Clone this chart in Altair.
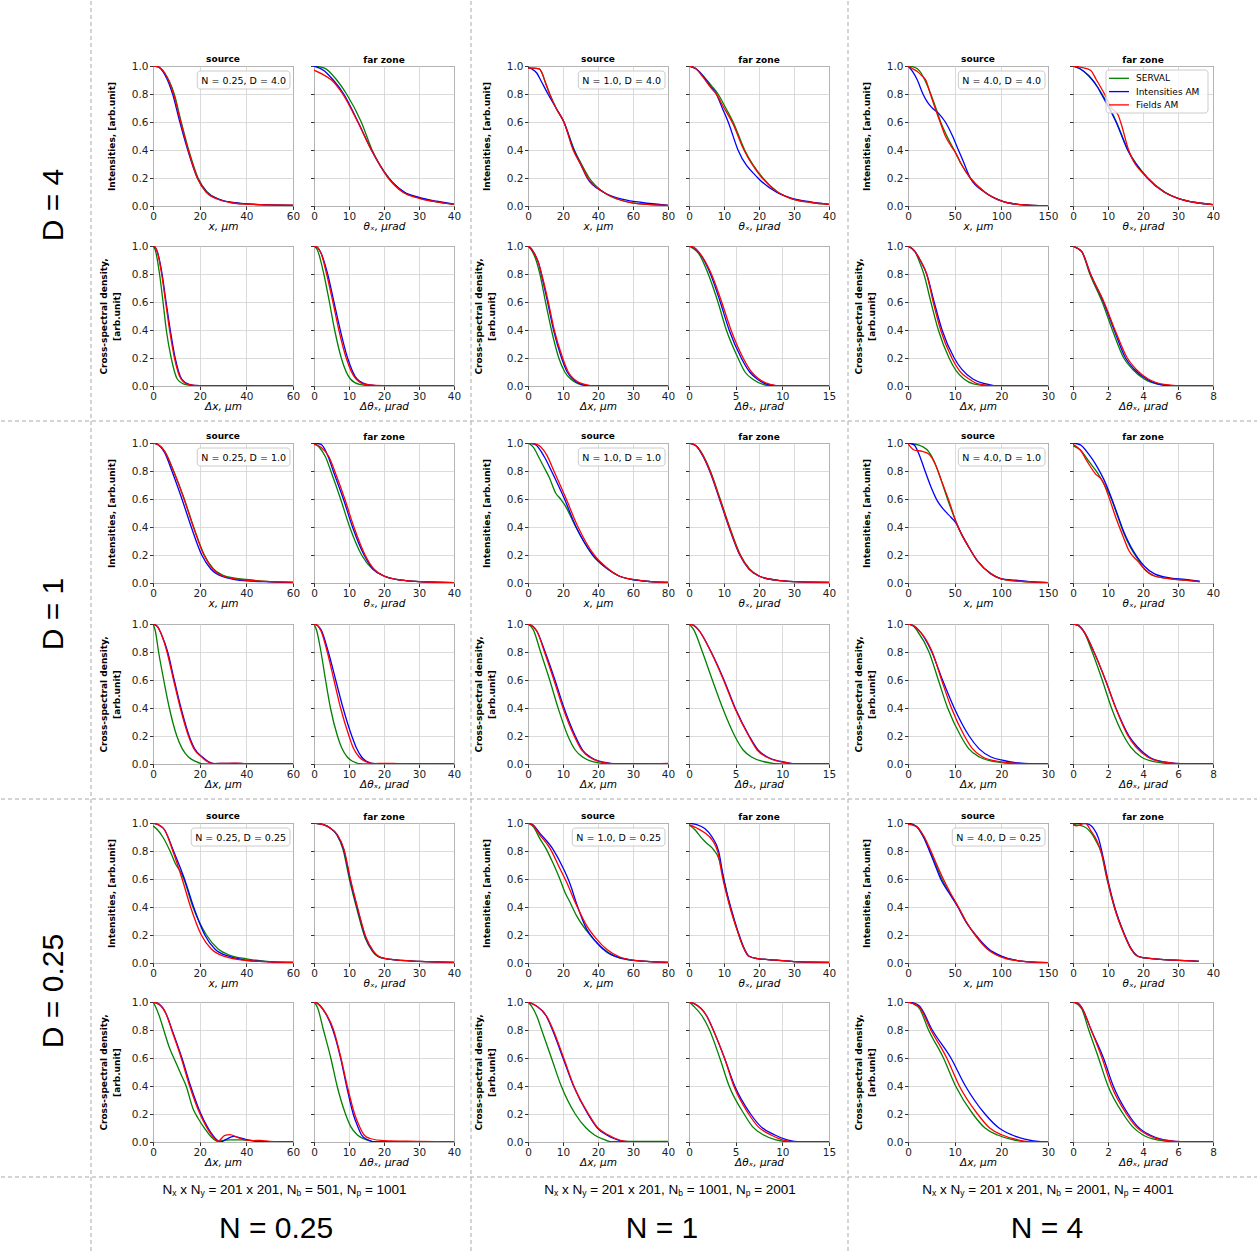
import altair as alt
import pandas as pd
from altair.utils import schemapi as _sp

# the spec is large: skip Altair's repeated client-side schema checks
try:
    _sp.disable_debug_mode()
except Exception:
    _sp.DEBUG_MODE = False

SERIES = ["SERVAL", "Intensities AM", "Fields AM"]
COLORS = ["#008000", "#0000ff", "#ff0000"]

# ---------------- data: series -> (x list, y list) ----------------
# N = 0.25, D = 4
N025_D4_SRC = {
    "SERVAL": ([0, 2, 5, 9.1, 12.1, 15.3, 19.3, 23.2, 28, 34, 40, 50, 60],
               [1.0, 0.995, 0.95, 0.8, 0.6, 0.4, 0.2, 0.1, 0.05, 0.025, 0.015, 0.008, 0.005]),
    "Intensities AM": ([0, 2, 5, 8.4, 11.5, 14.9, 19.0, 22.9, 28, 34, 40, 50, 60],
                       [1.0, 0.995, 0.94, 0.8, 0.6, 0.4, 0.2, 0.1, 0.05, 0.025, 0.015, 0.008, 0.005]),
    "Fields AM": ([0, 2, 5, 8.8, 11.9, 15.1, 19.0, 22.7, 27.5, 33, 40, 50, 60],
                  [1.0, 0.995, 0.95, 0.8, 0.6, 0.4, 0.2, 0.1, 0.05, 0.025, 0.013, 0.008, 0.006]),
}
N025_D4_FAR = {
    "SERVAL": ([0, 3, 6.5, 9.3, 13.5, 16.6, 21.4, 25.5, 30, 35, 40],
               [1.0, 0.985, 0.9, 0.8, 0.6, 0.4, 0.2, 0.1, 0.058, 0.03, 0.012]),
    "Intensities AM": ([0, 3, 5.5, 8.5, 12.6, 16.4, 21.3, 25.8, 30, 35, 40],
                       [1.0, 0.965, 0.9, 0.8, 0.6, 0.4, 0.2, 0.1, 0.062, 0.034, 0.013]),
    "Fields AM": ([0, 2.5, 5, 8.2, 12.5, 16.4, 21.2, 25.3, 30, 35, 40],
                  [0.97, 0.94, 0.9, 0.8, 0.6, 0.4, 0.2, 0.1, 0.055, 0.03, 0.012]),
}
N025_D4_CSD_SRC = {
    "SERVAL": ([0, 1, 2.8, 4.3, 5.7, 7.8, 10.4, 13, 16, 20, 30, 45, 60],
               [1, 0.97, 0.8, 0.6, 0.4, 0.2, 0.05, 0.015, 0.004, 0, 0, 0.003, 0]),
    "Intensities AM": ([0, 1, 2, 3.9, 5.6, 7.4, 9.5, 12.3, 15.5, 20, 30, 60],
                       [1, 0.99, 0.95, 0.8, 0.6, 0.4, 0.2, 0.05, 0.012, 0.002, 0, 0]),
    "Fields AM": ([0, 1, 2, 3.7, 5.4, 7.1, 9.2, 12, 15, 20, 30, 50, 60],
                  [1, 0.99, 0.95, 0.8, 0.6, 0.4, 0.2, 0.05, 0.012, 0.002, 0, 0.003, 0]),
}
N025_D4_CSD_FAR = {
    "SERVAL": ([0, 1, 2.8, 4.4, 5.9, 7.8, 10.4, 13, 17, 25, 40],
               [1, 0.97, 0.8, 0.6, 0.4, 0.2, 0.05, 0.012, 0, 0, 0]),
    "Intensities AM": ([0, 1, 2, 3.9, 5.7, 7.5, 9.6, 12.3, 15.5, 20, 40],
                       [1, 0.99, 0.95, 0.8, 0.6, 0.4, 0.2, 0.05, 0.01, 0, 0]),
    "Fields AM": ([0, 1, 2, 3.6, 5.4, 7.1, 9.2, 12, 15, 20, 25, 40],
                  [1, 0.99, 0.95, 0.8, 0.6, 0.4, 0.2, 0.05, 0.01, 0.002, 0.003, 0]),
}

# N = 1, D = 4
N1_D4_SRC = {
    "SERVAL": ([0, 3, 6.5, 8, 10, 12.4, 16, 20.5, 26.5, 30.5, 35, 43, 51, 60, 70, 80],
               [0.985, 0.985, 0.98, 0.95, 0.88, 0.8, 0.7, 0.6, 0.4, 0.3, 0.2, 0.1, 0.05, 0.022, 0.01, 0.005]),
    "Intensities AM": ([0, 2, 5, 7.2, 11.4, 16, 20.5, 26.2, 30, 33.8, 43, 55, 65, 80],
                       [0.99, 0.98, 0.95, 0.9, 0.8, 0.7, 0.6, 0.4, 0.3, 0.2, 0.1, 0.045, 0.025, 0.005]),
    "Fields AM": ([0, 3, 6.5, 8, 10, 12.4, 16, 20.5, 25.8, 30, 34.2, 43, 51, 60, 70, 80],
                  [0.985, 0.985, 0.98, 0.95, 0.88, 0.8, 0.7, 0.6, 0.4, 0.3, 0.2, 0.1, 0.05, 0.02, 0.01, 0.005]),
}
N1_D4_FAR = {
    "SERVAL": ([0, 2, 4, 6.4, 8.3, 10.5, 12.6, 15.9, 21.1, 25.3, 29, 35, 40],
               [1, 0.98, 0.93, 0.86, 0.8, 0.7, 0.6, 0.4, 0.2, 0.1, 0.055, 0.025, 0.012]),
    "Intensities AM": ([0, 2, 4, 6, 7.8, 9.5, 11.2, 14, 19.7, 24.9, 29, 35, 40],
                       [1, 0.98, 0.93, 0.86, 0.8, 0.7, 0.6, 0.4, 0.2, 0.1, 0.058, 0.028, 0.012]),
    "Fields AM": ([0, 2, 4, 6.4, 7.8, 10, 12.3, 15.7, 20.9, 25.3, 29, 35, 40],
                  [1, 0.98, 0.92, 0.84, 0.8, 0.7, 0.6, 0.4, 0.2, 0.1, 0.055, 0.025, 0.012]),
}
N1_D4_CSD_SRC = {
    "SERVAL": ([0, 1, 2, 3.4, 5, 6.7, 8.8, 10.5, 12.2, 14, 16, 20, 40],
               [1, 0.97, 0.92, 0.8, 0.6, 0.4, 0.2, 0.1, 0.05, 0.02, 0.005, 0, 0]),
    "Intensities AM": ([0, 1, 1.5, 3, 3.8, 5.6, 7.3, 9.6, 11.2, 12.8, 14.5, 17, 20, 40],
                       [1, 0.98, 0.96, 0.88, 0.8, 0.6, 0.4, 0.2, 0.1, 0.05, 0.02, 0.003, 0, 0]),
    "Fields AM": ([0, 1, 1.5, 3, 3.9, 5.8, 7.5, 9.9, 11.5, 13.1, 15, 18, 20, 40],
                  [1, 0.98, 0.96, 0.88, 0.8, 0.6, 0.4, 0.2, 0.1, 0.05, 0.02, 0.003, 0, 0]),
}
N1_D4_CSD_FAR = {
    "SERVAL": ([0, 0.5, 1, 2.06, 3.1, 4.0, 5.25, 6, 6.8, 8, 9, 15],
               [1, 0.98, 0.95, 0.8, 0.6, 0.4, 0.2, 0.1, 0.05, 0.01, 0, 0]),
    "Intensities AM": ([0, 0.5, 1, 2.3, 3.35, 4.3, 5.6, 6.5, 7.3, 8.5, 10, 15],
                       [1, 0.99, 0.96, 0.8, 0.6, 0.4, 0.2, 0.1, 0.05, 0.01, 0, 0]),
    "Fields AM": ([0, 0.5, 1, 2.4, 3.5, 4.5, 5.8, 6.7, 7.5, 8.7, 10, 15],
                  [1, 0.99, 0.96, 0.8, 0.6, 0.4, 0.2, 0.1, 0.05, 0.012, 0, 0]),
}

# N = 4, D = 4
N4_D4_SRC = {
    "SERVAL": ([0, 5, 10, 14, 18, 24.4, 29.8, 35, 41.6, 49.5, 57, 66.7, 82, 100, 120, 150],
               [1, 0.995, 0.98, 0.95, 0.9, 0.8, 0.7, 0.6, 0.5, 0.4, 0.3, 0.2, 0.1, 0.036, 0.01, 0.002]),
    "Intensities AM": ([0, 5, 10, 16, 21, 26, 33, 40, 47.7, 54, 58.5, 66.7, 82, 100, 120, 150],
                       [1, 0.96, 0.9, 0.8, 0.74, 0.7, 0.66, 0.6, 0.5, 0.4, 0.33, 0.2, 0.1, 0.036, 0.01, 0.002]),
    "Fields AM": ([0, 5, 10, 15, 19, 24, 29, 34.4, 40, 46, 51, 57, 66.7, 82, 100, 120, 150],
                  [1, 0.98, 0.96, 0.93, 0.9, 0.8, 0.7, 0.6, 0.5, 0.43, 0.38, 0.3, 0.2, 0.1, 0.036, 0.01, 0.002]),
}
N4_D4_FAR = {
    "SERVAL": ([0, 2, 4.5, 7, 8.3, 10.5, 12.4, 15.7, 21.4, 26.2, 30, 35, 40],
               [1, 0.98, 0.93, 0.85, 0.8, 0.7, 0.6, 0.4, 0.2, 0.1, 0.055, 0.025, 0.01]),
    "Intensities AM": ([0, 2, 4.5, 7, 8.1, 10.3, 12.3, 15.6, 21.2, 26, 30, 35, 40],
                       [1, 0.98, 0.93, 0.85, 0.8, 0.7, 0.6, 0.4, 0.2, 0.1, 0.055, 0.025, 0.01]),
    "Fields AM": ([0, 2.5, 5, 6.7, 9, 11, 12.9, 13.6, 15.9, 21.3, 26, 30, 35, 40],
                  [1, 0.99, 0.97, 0.9, 0.8, 0.7, 0.65, 0.6, 0.4, 0.2, 0.1, 0.055, 0.025, 0.01]),
}
N4_D4_CSD_SRC = {
    "SERVAL": ([0, 1.5, 2.3, 3.4, 4.9, 6.5, 8.8, 10.3, 12, 14, 17, 20, 30],
               [1, 0.96, 0.9, 0.8, 0.6, 0.4, 0.2, 0.11, 0.05, 0.015, 0.002, 0, 0]),
    "Intensities AM": ([0, 1.5, 2.6, 4.0, 5.6, 7.3, 9.9, 11.5, 13.9, 16, 20, 30],
                       [1, 0.96, 0.9, 0.8, 0.6, 0.4, 0.2, 0.12, 0.05, 0.02, 0, 0]),
    "Fields AM": ([0, 1.5, 2.6, 4.0, 5.4, 7.0, 9.4, 11, 13.1, 15, 19, 30],
                  [1, 0.96, 0.9, 0.8, 0.6, 0.4, 0.2, 0.11, 0.05, 0.015, 0.001, 0]),
}
N4_D4_CSD_FAR = {
    "SERVAL": ([0, 0.3, 0.5, 0.96, 1.67, 2.25, 2.9, 3.4, 4.07, 5, 6, 8],
               [1, 0.98, 0.96, 0.8, 0.6, 0.4, 0.2, 0.12, 0.05, 0.01, 0, 0]),
    "Intensities AM": ([0, 0.3, 0.5, 1.0, 1.74, 2.35, 3.0, 3.5, 4.2, 5.0, 6.2, 8],
                       [1, 0.98, 0.96, 0.8, 0.6, 0.4, 0.2, 0.12, 0.05, 0.01, 0, 0]),
    "Fields AM": ([0, 0.3, 0.5, 1.0, 1.77, 2.4, 3.1, 3.6, 4.3, 5.2, 6.5, 8],
                  [1, 0.98, 0.96, 0.8, 0.6, 0.4, 0.2, 0.12, 0.05, 0.012, 0, 0]),
}

# N = 0.25, D = 1
N025_D1_SRC = {
    "SERVAL": ([0, 2, 5, 8.8, 13.4, 17.4, 22, 25.9, 30, 35, 40, 50, 60],
               [1, 0.99, 0.94, 0.8, 0.6, 0.4, 0.2, 0.1, 0.055, 0.035, 0.025, 0.01, 0.005]),
    "Intensities AM": ([0, 2, 5, 8.1, 12.4, 16.4, 20.9, 24.8, 30, 35, 40, 50, 60],
                       [1, 0.99, 0.93, 0.8, 0.6, 0.4, 0.2, 0.1, 0.045, 0.025, 0.015, 0.008, 0.004]),
    "Fields AM": ([0, 2, 5, 8.8, 13.3, 17.3, 21.8, 25.6, 30, 35, 40, 50, 60],
                  [1, 0.99, 0.94, 0.8, 0.6, 0.4, 0.2, 0.1, 0.05, 0.03, 0.02, 0.01, 0.005]),
}
N025_D1_FAR = {
    "SERVAL": ([0, 1.5, 3.3, 4.8, 7.6, 10.2, 13.6, 16.7, 20, 25, 30, 40],
               [1, 0.97, 0.9, 0.8, 0.6, 0.4, 0.2, 0.1, 0.05, 0.02, 0.01, 0.003]),
    "Intensities AM": ([0, 2, 4.1, 5.5, 8.4, 11.0, 14.3, 16.9, 20, 25, 30, 40],
                       [1, 0.99, 0.9, 0.8, 0.6, 0.4, 0.2, 0.1, 0.05, 0.02, 0.01, 0.003]),
    "Fields AM": ([0, 2, 4.3, 5.9, 8.8, 11.4, 14.6, 17.1, 20, 25, 30, 40],
                  [0.99, 0.97, 0.9, 0.8, 0.6, 0.4, 0.2, 0.1, 0.05, 0.02, 0.01, 0.003]),
}
N025_D1_CSD_SRC = {
    "SERVAL": ([0, 1, 2.4, 4.6, 7.0, 10.2, 12.5, 15.2, 18, 22, 30, 60],
               [1, 0.95, 0.8, 0.6, 0.4, 0.2, 0.11, 0.05, 0.02, 0, 0, 0]),
    "Intensities AM": ([0, 2, 3.5, 6.3, 9.1, 12.0, 15.5, 17.8, 21.2, 23.5, 26.5, 30, 35, 40, 60],
                       [1, 0.98, 0.93, 0.8, 0.6, 0.4, 0.2, 0.11, 0.05, 0.02, 0.003, 0.004, 0.005, 0.002, 0]),
    "Fields AM": ([0, 2, 3.5, 6, 8.8, 11.7, 15.2, 17.5, 20.9, 23, 26, 30, 35, 40, 60],
                  [1, 0.98, 0.93, 0.8, 0.6, 0.4, 0.2, 0.11, 0.05, 0.02, 0.003, 0.004, 0.006, 0.002, 0]),
}
N025_D1_CSD_FAR = {
    "SERVAL": ([0, 0.8, 2.0, 3.3, 4.7, 6.7, 8, 9.5, 11, 14, 20, 40],
               [1, 0.95, 0.8, 0.6, 0.4, 0.2, 0.11, 0.05, 0.02, 0, 0, 0]),
    "Intensities AM": ([0, 1, 2, 4.1, 6.2, 8.3, 10.8, 12.2, 13.6, 15, 17.5, 25, 40],
                       [1, 0.99, 0.96, 0.8, 0.6, 0.4, 0.2, 0.11, 0.05, 0.02, 0.002, 0, 0]),
    "Fields AM": ([0, 1, 2, 3.8, 5.7, 7.6, 10, 11.3, 12.9, 14.5, 17, 20, 25, 40],
                  [1, 0.99, 0.95, 0.8, 0.6, 0.4, 0.2, 0.11, 0.05, 0.02, 0.002, 0.005, 0.002, 0]),
}

# N = 1, D = 1
N1_D1_SRC = {
    "SERVAL": ([0, 3, 6.1, 9, 12.3, 15.7, 18.6, 20.9, 27.3, 36.9, 45.5, 52, 62, 70, 80],
               [1, 0.97, 0.9, 0.83, 0.75, 0.645, 0.6, 0.56, 0.4, 0.2, 0.1, 0.05, 0.02, 0.01, 0.005]),
    "Intensities AM": ([0, 4, 9.4, 13.4, 20.5, 27.5, 37, 45.5, 52, 62, 70, 80],
                       [1, 0.99, 0.9, 0.8, 0.61, 0.4, 0.2, 0.1, 0.05, 0.02, 0.01, 0.005]),
    "Fields AM": ([0, 5, 10.9, 14.8, 21.5, 28.6, 37.8, 46, 52, 62, 70, 80],
                  [1, 0.99, 0.91, 0.8, 0.61, 0.4, 0.2, 0.1, 0.05, 0.022, 0.01, 0.005]),
}
N1_D1_FAR = {
    "SERVAL": ([0, 2, 4.3, 6.1, 8.9, 11.6, 14.7, 17.3, 20, 25, 30, 40],
               [1, 0.98, 0.9, 0.8, 0.6, 0.4, 0.2, 0.1, 0.05, 0.02, 0.01, 0.005]),
    "Intensities AM": ([0, 2, 4.1, 5.9, 8.7, 11.4, 14.5, 17.1, 20, 25, 30, 40],
                       [1, 0.98, 0.9, 0.8, 0.6, 0.4, 0.2, 0.1, 0.05, 0.02, 0.01, 0.005]),
    "Fields AM": ([0, 2, 4.2, 6.0, 8.8, 11.5, 14.6, 17.2, 20, 25, 30, 40],
                  [1, 0.98, 0.9, 0.8, 0.6, 0.4, 0.2, 0.1, 0.05, 0.02, 0.01, 0.005]),
}
N1_D1_CSD_SRC = {
    "SERVAL": ([0, 1.5, 3.6, 6.2, 8.6, 11.4, 13.5, 15.6, 18, 21, 24, 40],
               [1, 0.96, 0.8, 0.6, 0.4, 0.2, 0.1, 0.05, 0.02, 0.005, 0, 0]),
    "Intensities AM": ([0, 1.5, 2.5, 4.9, 7.7, 10.3, 13.5, 15.6, 17.8, 20.3, 23.5, 27, 40],
                       [1, 0.98, 0.95, 0.8, 0.6, 0.4, 0.2, 0.1, 0.05, 0.02, 0.005, 0, 0]),
    "Fields AM": ([0, 1.5, 2.5, 4.7, 7.4, 10, 13.2, 15.3, 17.5, 20, 23, 27, 35, 40],
                  [1, 0.98, 0.95, 0.8, 0.6, 0.4, 0.2, 0.1, 0.05, 0.02, 0.005, 0, 0.002, 0.004]),
}
N1_D1_CSD_FAR = {
    "SERVAL": ([0, 0.5, 1.44, 2.5, 3.6, 4.9, 5.8, 6.7, 7.8, 10, 15],
               [1, 0.96, 0.8, 0.6, 0.4, 0.2, 0.1, 0.05, 0.02, 0, 0]),
    "Intensities AM": ([0, 0.5, 1, 2.38, 3.75, 4.95, 6.45, 7.4, 8.4, 9.7, 12, 15],
                       [1, 0.99, 0.96, 0.8, 0.6, 0.4, 0.2, 0.1, 0.05, 0.02, 0, 0]),
    "Fields AM": ([0, 0.5, 1, 2.35, 3.7, 4.9, 6.4, 7.3, 8.3, 9.5, 12, 15],
                  [1, 0.99, 0.96, 0.8, 0.6, 0.4, 0.2, 0.1, 0.05, 0.02, 0, 0]),
}

# N = 4, D = 1
N4_D1_SRC = {
    "SERVAL": ([0, 5, 15.4, 22.6, 28, 35.2, 42.3, 51.3, 58, 63.9, 74.6, 89, 100, 115, 130, 150],
               [1, 0.995, 0.975, 0.935, 0.87, 0.74, 0.6, 0.44, 0.34, 0.27, 0.156, 0.065, 0.03, 0.015, 0.008, 0.003]),
    "Intensities AM": ([0, 6.5, 11.8, 17.2, 24.4, 31.6, 38.8, 46, 51.3, 58, 63.9, 74.6, 89, 100, 115, 130, 150],
                       [1, 0.987, 0.92, 0.82, 0.69, 0.585, 0.52, 0.47, 0.43, 0.34, 0.27, 0.156, 0.065, 0.03, 0.02, 0.01, 0.003]),
    "Fields AM": ([0, 6.5, 15.4, 22.6, 29.8, 37, 44, 51.3, 58, 63.9, 74.6, 89, 100, 115, 130, 150],
                  [0.995, 0.95, 0.94, 0.92, 0.84, 0.71, 0.585, 0.44, 0.34, 0.27, 0.156, 0.065, 0.03, 0.015, 0.008, 0.003]),
}
N4_D1_FAR = {
    "SERVAL": ([0, 2.1, 4.5, 6.9, 8.8, 10.8, 12.7, 14.6, 16.5, 18.5, 20.4, 23.3, 28, 32, 36.2],
               [0.98, 0.95, 0.87, 0.79, 0.71, 0.61, 0.48, 0.35, 0.25, 0.17, 0.1, 0.05, 0.03, 0.02, 0.01]),
    "Intensities AM": ([0, 2.1, 4.5, 6.9, 8.8, 10.8, 12.7, 14.6, 16.5, 18.5, 20.4, 23.3, 28, 32, 36.2],
                       [1, 0.987, 0.92, 0.83, 0.74, 0.62, 0.49, 0.36, 0.26, 0.18, 0.12, 0.065, 0.035, 0.026, 0.013]),
    "Fields AM": ([0, 2.1, 4, 6.4, 8.4, 10.3, 12.2, 14.2, 16, 18.5, 20.4, 23.3, 28, 32, 36.2],
                  [0.99, 0.95, 0.87, 0.78, 0.73, 0.61, 0.47, 0.34, 0.23, 0.156, 0.1, 0.05, 0.03, 0.02, 0.01]),
}
N4_D1_CSD_SRC = {
    "SERVAL": ([0, 1, 2, 4.5, 6.5, 8.5, 11.3, 13, 15.3, 18, 21, 25, 30],
               [1, 0.99, 0.95, 0.8, 0.6, 0.4, 0.2, 0.11, 0.05, 0.02, 0.007, 0, 0]),
    "Intensities AM": ([0, 1, 2.2, 5.1, 7.4, 9.9, 13.1, 15.2, 17.8, 20.5, 23, 27, 30],
                       [1, 0.99, 0.96, 0.8, 0.6, 0.4, 0.2, 0.11, 0.05, 0.025, 0.01, 0.001, 0]),
    "Fields AM": ([0, 1, 2.2, 5.2, 7.2, 9.3, 12.1, 13.8, 16, 19, 22, 26, 30],
                  [1, 0.99, 0.96, 0.8, 0.6, 0.4, 0.2, 0.11, 0.05, 0.02, 0.007, 0, 0]),
}
N4_D1_CSD_FAR = {
    "SERVAL": ([0, 0.3, 0.6, 1.1, 1.67, 2.2, 2.9, 3.3, 3.9, 4.7, 6, 8],
               [1, 0.99, 0.95, 0.8, 0.6, 0.4, 0.2, 0.12, 0.05, 0.015, 0, 0]),
    "Intensities AM": ([0, 0.3, 0.6, 1.2, 1.85, 2.45, 3.2, 3.7, 4.35, 5.2, 6.5, 8],
                       [1, 0.99, 0.95, 0.8, 0.6, 0.4, 0.2, 0.12, 0.05, 0.015, 0, 0]),
    "Fields AM": ([0, 0.3, 0.6, 1.2, 1.86, 2.44, 3.15, 3.6, 4.26, 5.1, 6.5, 8],
                  [1, 0.99, 0.95, 0.8, 0.6, 0.4, 0.2, 0.12, 0.05, 0.015, 0, 0]),
}

# N = 0.25, D = 0.25
N025_D025_SRC = {
    "SERVAL": ([0, 2, 4.2, 7.3, 9.9, 11.5, 13.2, 17.1, 22.9, 27.9, 33, 40, 50, 60],
               [0.98, 0.95, 0.9, 0.8, 0.7, 0.66, 0.6, 0.4, 0.2, 0.1, 0.055, 0.03, 0.01, 0.005]),
    "Intensities AM": ([0, 2, 5, 8.8, 13.5, 17.4, 22.2, 26.5, 33, 40, 50, 60],
                       [1, 0.99, 0.95, 0.8, 0.6, 0.4, 0.2, 0.1, 0.045, 0.02, 0.008, 0.004]),
    "Fields AM": ([0, 2, 5, 8.5, 12.5, 16.1, 20.7, 25, 31, 40, 50, 60],
                  [1, 0.99, 0.95, 0.8, 0.6, 0.4, 0.2, 0.1, 0.045, 0.018, 0.008, 0.004]),
}
N025_D025_FAR = {
    "SERVAL": ([0, 2.7, 4.6, 6.5, 8.3, 10.1, 12.2, 14.6, 16.6, 19, 22, 30, 40],
               [1, 0.988, 0.964, 0.916, 0.81, 0.6, 0.39, 0.18, 0.087, 0.038, 0.026, 0.012, 0.005]),
    "Intensities AM": ([0, 2.7, 4.6, 6.6, 8.5, 10.3, 12.4, 14.8, 16.8, 19.2, 22, 30, 40],
                       [1, 0.988, 0.964, 0.916, 0.81, 0.6, 0.39, 0.18, 0.087, 0.038, 0.026, 0.012, 0.005]),
    "Fields AM": ([0, 2.7, 4.6, 6.7, 8.6, 10.4, 12.5, 14.9, 16.9, 19.3, 22, 30, 40],
                  [1, 0.988, 0.964, 0.916, 0.81, 0.6, 0.39, 0.18, 0.087, 0.038, 0.026, 0.012, 0.005]),
}
N025_D025_CSD_SRC = {
    "SERVAL": ([0, 1, 2.7, 4.6, 7, 9.2, 11.7, 14.2, 17.1, 19.3, 22.2, 25, 27.7, 30, 33, 38, 42, 46, 50, 60],
               [1, 0.97, 0.9, 0.8, 0.675, 0.59, 0.494, 0.4, 0.24, 0.17, 0.096, 0.036, 0.005, 0.012, 0.015, 0.015, 0.012, 0.005, 0.002, 0]),
    "Intensities AM": ([0, 2.7, 5.6, 8.3, 12.4, 16.1, 20.4, 23.3, 26.2, 29, 31.5, 34.4, 37.3, 40, 44.5, 50, 60],
                       [1, 0.983, 0.916, 0.795, 0.6, 0.4, 0.205, 0.108, 0.036, 0.0, 0.02, 0.04, 0.03, 0.017, 0.005, 0.002, 0]),
    "Fields AM": ([0, 2.7, 5.6, 8.1, 12.1, 15.7, 20, 22.9, 25.8, 27.9, 30.8, 33, 35.8, 38.7, 43, 46, 50, 60],
                  [1, 0.983, 0.916, 0.795, 0.6, 0.4, 0.205, 0.108, 0.036, 0.005, 0.048, 0.053, 0.036, 0.017, 0.01, 0.012, 0.005, 0]),
}
N025_D025_CSD_FAR = {
    "SERVAL": ([0, 1, 2.7, 4.8, 6.6, 9, 10.5, 12.4, 14.5, 18, 25, 40],
               [1, 0.96, 0.8, 0.6, 0.4, 0.2, 0.11, 0.05, 0.02, 0, 0, 0]),
    "Intensities AM": ([0, 1, 2.5, 5.4, 7.6, 9.3, 11.2, 12.5, 13.6, 15, 18, 25, 40],
                       [1, 0.99, 0.95, 0.8, 0.6, 0.4, 0.2, 0.11, 0.05, 0.02, 0, 0, 0]),
    "Fields AM": ([0, 1, 2.5, 5.6, 7.7, 9.5, 11.6, 13, 14.3, 16, 20, 30, 40],
                  [1, 0.99, 0.95, 0.8, 0.6, 0.4, 0.2, 0.11, 0.05, 0.025, 0.01, 0.005, 0]),
}

# N = 1, D = 0.25
N1_D025_SRC = {
    "SERVAL": ([0, 3, 6.7, 10.6, 14.4, 18.2, 21.1, 24, 27.8, 33.6, 41.3, 49, 56.6, 68, 80],
               [1, 0.975, 0.89, 0.81, 0.71, 0.6, 0.506, 0.434, 0.337, 0.229, 0.12, 0.053, 0.024, 0.012, 0.005]),
    "Intensities AM": ([0, 3, 6.7, 14.4, 20.2, 24, 27.8, 33.6, 39.3, 45.1, 52.8, 60.5, 70, 80],
                       [1, 0.985, 0.928, 0.81, 0.675, 0.566, 0.422, 0.24, 0.145, 0.077, 0.036, 0.019, 0.01, 0.004]),
    "Fields AM": ([0, 3, 6.7, 12.5, 18.2, 22, 27.8, 33.6, 39.3, 45.1, 52.8, 60.5, 70, 80],
                  [1, 0.98, 0.916, 0.82, 0.675, 0.578, 0.41, 0.265, 0.169, 0.096, 0.041, 0.019, 0.01, 0.005]),
}
N1_D025_FAR = {
    "SERVAL": ([0, 1.7, 3.7, 5.1, 7, 8.5, 9.6, 11.4, 14, 15.4, 17.1, 19.6, 25, 30, 40],
               [0.988, 0.952, 0.89, 0.855, 0.81, 0.747, 0.64, 0.435, 0.217, 0.12, 0.048, 0.031, 0.02, 0.01, 0.005]),
    "Intensities AM": ([0, 2, 4.5, 6.6, 8.5, 9.9, 11.9, 14.1, 15.5, 17.2, 19.6, 25, 30, 40],
                       [1, 0.99, 0.96, 0.9, 0.795, 0.6, 0.4, 0.217, 0.12, 0.048, 0.031, 0.02, 0.01, 0.005]),
    "Fields AM": ([0, 2.2, 4.6, 6.6, 8.2, 9.6, 11.7, 14, 15.4, 17.1, 19.6, 25, 30, 40],
                  [0.988, 0.964, 0.928, 0.88, 0.795, 0.61, 0.4, 0.217, 0.12, 0.048, 0.031, 0.02, 0.01, 0.005]),
}
N1_D025_CSD_SRC = {
    "SERVAL": ([0, 1, 2.5, 3.9, 6.7, 9.5, 13.5, 16.6, 19, 21.5, 23.6, 30, 40],
               [1, 0.97, 0.9, 0.8, 0.6, 0.4, 0.2, 0.1, 0.05, 0.02, 0.003, 0.005, 0.005]),
    "Intensities AM": ([0, 1, 2.5, 5.2, 7.0, 10.0, 13.0, 17.1, 19.8, 22.5, 24.5, 27.5, 32, 40],
                       [1, 0.99, 0.97, 0.9, 0.8, 0.6, 0.4, 0.2, 0.1, 0.05, 0.025, 0.005, 0, 0]),
    "Fields AM": ([0, 1, 2.5, 5.3, 7.2, 10.2, 13.1, 17.3, 20, 23, 25, 27.8, 32, 40],
                  [1, 0.99, 0.97, 0.9, 0.8, 0.6, 0.4, 0.2, 0.1, 0.05, 0.025, 0.005, 0, 0]),
}
N1_D025_CSD_FAR = {
    "SERVAL": ([0, 0.5, 1.4, 2.2, 3.3, 4.3, 5.9, 6.8, 8, 9.3, 11, 15],
               [1, 0.97, 0.9, 0.8, 0.6, 0.4, 0.2, 0.11, 0.05, 0.015, 0, 0]),
    "Intensities AM": ([0, 0.5, 1.9, 2.6, 3.8, 4.9, 6.6, 7.7, 9.2, 10.5, 12, 15],
                       [1, 0.99, 0.9, 0.8, 0.6, 0.4, 0.2, 0.11, 0.05, 0.015, 0, 0]),
    "Fields AM": ([0, 0.5, 1.9, 2.6, 3.8, 4.8, 6.4, 7.4, 8.8, 10, 11.5, 15],
                  [1, 0.99, 0.9, 0.8, 0.6, 0.4, 0.2, 0.11, 0.05, 0.015, 0, 0]),
}

# N = 4, D = 0.25
N4_D025_SRC = {
    "SERVAL": ([0, 5, 10, 16.8, 23.7, 30, 36.3, 44.7, 53.7, 61.6, 72, 85.3, 100, 115, 130, 150],
               [1, 0.99, 0.97, 0.9, 0.8, 0.7, 0.6, 0.5, 0.4, 0.3, 0.2, 0.1, 0.045, 0.02, 0.008, 0.003]),
    "Intensities AM": ([0, 5, 10, 16.5, 23, 29, 35, 44, 53.5, 61.5, 72.5, 86.5, 100, 115, 130, 150],
                       [1, 0.99, 0.97, 0.9, 0.8, 0.7, 0.6, 0.5, 0.4, 0.3, 0.2, 0.1, 0.05, 0.02, 0.008, 0.003]),
    "Fields AM": ([0, 5, 10, 17.5, 24.5, 31, 37.8, 45.5, 54, 62, 72, 85, 100, 115, 130, 150],
                  [0.99, 0.985, 0.97, 0.9, 0.8, 0.7, 0.6, 0.5, 0.4, 0.3, 0.2, 0.1, 0.042, 0.018, 0.008, 0.003]),
}
N4_D025_FAR = {
    "SERVAL": ([0, 3.1, 5.2, 6.6, 8, 9.7, 11.8, 14.6, 16.4, 18.5, 20.6, 29, 36],
               [0.99, 0.975, 0.93, 0.87, 0.795, 0.6, 0.4, 0.205, 0.108, 0.048, 0.036, 0.02, 0.012]),
    "Intensities AM": ([0, 3.8, 5.9, 7.3, 8.7, 10.1, 11.9, 14.7, 16.5, 18.6, 20.6, 29, 36],
                       [1, 0.995, 0.96, 0.89, 0.745, 0.578, 0.4, 0.205, 0.108, 0.048, 0.036, 0.02, 0.012]),
    "Fields AM": ([0, 1, 2.1, 3.5, 5.2, 6.9, 8.3, 9.7, 11.8, 14.6, 16.4, 18.5, 20.6, 29, 36],
                  [0.988, 0.98, 0.988, 1.0, 0.94, 0.87, 0.77, 0.61, 0.4, 0.205, 0.108, 0.048, 0.036, 0.02, 0.012]),
}
N4_D025_CSD_SRC = {
    "SERVAL": ([0, 1, 2.5, 4.4, 7.6, 10.2, 13.9, 16.5, 19.2, 22, 26, 30],
               [1, 0.99, 0.95, 0.8, 0.6, 0.4, 0.2, 0.1, 0.05, 0.02, 0, 0]),
    "Intensities AM": ([0, 1, 2.5, 5.2, 9.2, 12.3, 16.5, 19.5, 22.3, 25, 29, 30],
                       [1, 0.995, 0.97, 0.8, 0.6, 0.4, 0.2, 0.1, 0.05, 0.02, 0.001, 0]),
    "Fields AM": ([0, 1, 2.5, 4.9, 8.3, 11, 14.9, 17.5, 20.2, 23, 27, 30],
                  [1, 0.99, 0.96, 0.8, 0.6, 0.4, 0.2, 0.1, 0.05, 0.02, 0, 0]),
}
N4_D025_CSD_FAR = {
    "SERVAL": ([0, 0.3, 0.5, 0.9, 1.46, 2.0, 2.87, 3.4, 4.0, 4.8, 6, 8],
               [1, 0.98, 0.95, 0.8, 0.6, 0.4, 0.2, 0.11, 0.05, 0.015, 0, 0]),
    "Intensities AM": ([0, 0.3, 0.5, 1.04, 1.74, 2.3, 3.15, 3.7, 4.4, 5.2, 6.5, 8],
                       [1, 0.99, 0.96, 0.8, 0.6, 0.4, 0.2, 0.11, 0.05, 0.015, 0, 0]),
    "Fields AM": ([0, 0.3, 0.5, 1.04, 1.66, 2.2, 3.06, 3.6, 4.27, 5.1, 6.5, 8],
                  [1, 0.99, 0.96, 0.8, 0.6, 0.4, 0.2, 0.11, 0.05, 0.015, 0, 0]),
}

# ---------------- labels / axes ----------------
N_LABELS = ["N = 0.25", "N = 1", "N = 4"]
N_NOTE = ["0.25", "1.0", "4.0"]
D_LABELS = ["D = 4", "D = 1", "D = 0.25"]
D_NOTE = ["4.0", "1.0", "0.25"]
NB = ["501", "1001", "2001"]
NP = ["1001", "2001", "4001"]

SRC_X = [(60, [0, 20, 40, 60]), (80, [0, 20, 40, 60, 80]), (150, [0, 50, 100, 150])]
FAR_X = [(40, [0, 10, 20, 30, 40])] * 3
CSD_SRC_X = [(60, [0, 20, 40, 60]), (40, [0, 10, 20, 30, 40]), (30, [0, 10, 20, 30])]
CSD_FAR_X = [(40, [0, 10, 20, 30, 40]), (15, [0, 5, 10, 15]), (8, [0, 2, 4, 6, 8])]
YTICKS = [0, 0.2, 0.4, 0.6, 0.8, 1.0]

PANELS = {
    (0, 0): (N025_D4_SRC, N025_D4_FAR, N025_D4_CSD_SRC, N025_D4_CSD_FAR),
    (1, 0): (N1_D4_SRC, N1_D4_FAR, N1_D4_CSD_SRC, N1_D4_CSD_FAR),
    (2, 0): (N4_D4_SRC, N4_D4_FAR, N4_D4_CSD_SRC, N4_D4_CSD_FAR),
    (0, 1): (N025_D1_SRC, N025_D1_FAR, N025_D1_CSD_SRC, N025_D1_CSD_FAR),
    (1, 1): (N1_D1_SRC, N1_D1_FAR, N1_D1_CSD_SRC, N1_D1_CSD_FAR),
    (2, 1): (N4_D1_SRC, N4_D1_FAR, N4_D1_CSD_SRC, N4_D1_CSD_FAR),
    (0, 2): (N025_D025_SRC, N025_D025_FAR, N025_D025_CSD_SRC, N025_D025_CSD_FAR),
    (1, 2): (N1_D025_SRC, N1_D025_FAR, N1_D025_CSD_SRC, N1_D025_CSD_FAR),
    (2, 2): (N4_D025_SRC, N4_D025_FAR, N4_D025_CSD_SRC, N4_D025_CSD_FAR),
}

FONT = "DejaVu Sans"
W, H = 140, 140

DEJAVU_W = {"N": 0.748, " ": 0.318, "=": 0.838, ".": 0.318, ",": 0.318, "D": 0.770}
DEJAVU_W.update({d: 0.636 for d in "0123456789"})


def dejavu_width(s, size):
    return sum(DEJAVU_W[c] for c in s) * size


def axis_common():
    return dict(labelFont=FONT, labelFontSize=10.5, labelColor="#1e1e1e", labelPadding=1.5,
                tickSize=3.5, tickColor="#333333", tickWidth=1, domain=False,
                grid=True, gridColor="#d2d2d2", gridWidth=0.8,
                labelFlush=False, labelOverlap=False,
                titleFont=FONT, titleColor="#000000", titleLimit=300)


def panel(data, xmax, xticks, xtitle, ytitle=None, ypad=0, title=None, title_offset=1,
          note=None, legend=False):
    xax = alt.Axis(values=xticks, title=xtitle, titleFontSize=10.5, titleFontStyle="italic",
                   titleFontWeight="normal", titlePadding=0, **axis_common())
    if ytitle is not None:
        yax = alt.Axis(values=YTICKS, format=".1f", title=ytitle, titleFontSize=9,
                       titleFontWeight="bold", titlePadding=ypad, titleLineHeight=13,
                       minExtent=22, maxExtent=22, **axis_common())
    else:
        yax = alt.Axis(values=YTICKS, labels=False, title=None, **axis_common())
    xs = alt.Scale(domain=[0, xmax], nice=False, zero=False)
    ys = alt.Scale(domain=[0, 1], nice=False, zero=False)
    cs = alt.Scale(domain=SERIES, range=COLORS)
    layers = []
    for s in SERIES:
        px, py = data[s]
        df = pd.DataFrame({"x": px, "y": py, "series": [s] * len(px)})
        layers.append(
            alt.Chart(df).mark_line(interpolate="monotone", strokeWidth=1.3, clip=True).encode(
                x=alt.X("x:Q", scale=xs, axis=xax),
                y=alt.Y("y:Q", scale=ys, axis=yax),
                color=alt.Color("series:N", scale=cs, legend=None),
            )
        )
    if note is not None:
        bw = dejavu_width(note, 9.5) + 8
        one = pd.DataFrame({"t": [note]})
        layers.append(alt.Chart(one).mark_rect(fill="white", fillOpacity=0.8, stroke="#cccccc",
                                               strokeWidth=1, cornerRadius=3).encode(
            x=alt.value(W - 3 - bw), x2=alt.value(W - 3), y=alt.value(5), y2=alt.value(23)))
        layers.append(alt.Chart(one).mark_text(font=FONT, fontSize=9.5, color="black",
                                               align="center", baseline="middle").encode(
            x=alt.value(W - 3 - bw / 2), y=alt.value(14.5), text="t:N"))
    if legend:
        layers.append(alt.Chart(pd.DataFrame({"t": [""]})).mark_rect(
            fill="white", fillOpacity=0.8, stroke="#cccccc", strokeWidth=1, cornerRadius=3).encode(
            x=alt.value(33), x2=alt.value(135), y=alt.value(4), y2=alt.value(47)))
        for k, (s, c) in enumerate(zip(SERIES, COLORS)):
            yy = 12.3 + 13.3 * k
            layers.append(alt.Chart(pd.DataFrame({"t": [s]})).mark_rule(color=c, strokeWidth=1.3).encode(
                x=alt.value(36), x2=alt.value(56), y=alt.value(yy)))
            layers.append(alt.Chart(pd.DataFrame({"t": [s]})).mark_text(
                font=FONT, fontSize=9, color="black", align="left", baseline="middle").encode(
                x=alt.value(63), y=alt.value(yy), text="t:N"))
    ch = alt.layer(*layers).properties(width=W, height=H)
    if title is not None:
        ch = ch.properties(title=alt.TitleParams(text=title, font=FONT, fontSize=9, fontWeight="bold",
                                                 color="black", offset=title_offset, frame="group",
                                                 anchor="middle"))
    return ch


def make_panel(pr, pc):
    """pr: panel row 0..5, pc: panel column 0..5"""
    di, sub_r = pr // 2, pr % 2
    ni, sub_c = pc // 2, pc % 2
    src, far, csd_src, csd_far = PANELS[(ni, di)]
    if sub_r == 0 and sub_c == 0:
        note = f"N = {N_NOTE[ni]}, D = {D_NOTE[di]}"
        return panel(src, SRC_X[ni][0], SRC_X[ni][1], "x, μm", "Intensities, [arb.unit]", 14.5,
                     title="source", title_offset=-3, note=note)
    if sub_r == 0 and sub_c == 1:
        return panel(far, FAR_X[ni][0], FAR_X[ni][1], "θₓ, μrad", title="far zone",
                     title_offset=1, legend=(ni == 2 and di == 0))
    if sub_r == 1 and sub_c == 0:
        return panel(csd_src, CSD_SRC_X[ni][0], CSD_SRC_X[ni][1], "Δx, μm",
                     ["Cross-spectral density,", "[arb.unit]"], 9.5)
    return panel(csd_far, CSD_FAR_X[ni][0], CSD_FAR_X[ni][1], "Δθₓ, μrad")


# ---------------- frame cell: separators and big labels (drawn in page pixels) ----------------
TOTAL_W, TOTAL_H = 1256, 1250
seg = pd.DataFrame({
    "x": [90, 470, 847, 0, 0, 0],
    "x2": [90, 470, 847, TOTAL_W, TOTAL_W, TOTAL_W],
    "y": [0, 0, 0, 420, 798, 1176],
    "y2": [TOTAL_H, TOTAL_H, TOTAL_H, 420, 798, 1176],
})
rules = alt.Chart(seg).mark_rule(color="#a9a9a9", strokeDash=[4, 3], strokeWidth=1).encode(
    x=alt.X("x:Q", scale=None, axis=None), x2="x2:Q",
    y=alt.Y("y:Q", scale=None, axis=None), y2="y2:Q")

dlab = pd.DataFrame({"t": D_LABELS, "x": [53, 53, 53], "y": [204, 613, 990]})
dtext = alt.Chart(dlab).mark_text(font="Liberation Sans", fontSize=30, angle=270, align="center",
                                  baseline="middle", color="black").encode(
    x=alt.X("x:Q", scale=None, axis=None), y=alt.Y("y:Q", scale=None, axis=None), text="t:N")

ARIAL_W = {"N": 722, "x": 500, " ": 278, "y": 500, "=": 584, ",": 278, "b": 556, "p": 556}
ARIAL_W.update({d: 556 for d in "0123456789"})


def arial_width(s, size):
    return sum(ARIAL_W[c] for c in s) * size / 1000.0


MAIN_SIZE, SUB_SIZE = 13.5, 8.5
SUB_CENTERS = [283.5, 669, 1047]
main_rows, sub_rows = [], []
for i in range(3):
    segs = [("N", 0), ("x", 1), (" x N", 0), ("y", 1), (" = 201 x 201, N", 0), ("b", 1),
            (f" = {NB[i]}, N", 0), ("p", 1), (f" = {NP[i]}", 0)]
    total = sum(arial_width(s, SUB_SIZE if sb else MAIN_SIZE) for s, sb in segs)
    xpos = SUB_CENTERS[i] - total / 2
    for s, sb in segs:
        size = SUB_SIZE if sb else MAIN_SIZE
        lead = len(s) - len(s.lstrip(" "))
        row = {"t": s.strip(), "x": xpos + lead * ARIAL_W[" "] * size / 1000.0}
        if sb:
            row["y"] = 1195
            sub_rows.append(row)
        else:
            row["y"] = 1193
            main_rows.append(row)
        xpos += arial_width(s, size)

main_txt = alt.Chart(pd.DataFrame(main_rows)).mark_text(
    font="Liberation Sans", fontSize=MAIN_SIZE, align="left", baseline="alphabetic", color="black").encode(
    x=alt.X("x:Q", scale=None, axis=None), y=alt.Y("y:Q", scale=None, axis=None), text="t:N")
sub_txt = alt.Chart(pd.DataFrame(sub_rows)).mark_text(
    font="Liberation Sans", fontSize=SUB_SIZE, align="left", baseline="alphabetic", color="black").encode(
    x=alt.X("x:Q", scale=None, axis=None), y=alt.Y("y:Q", scale=None, axis=None), text="t:N")

nlab = pd.DataFrame({"t": N_LABELS, "x": [275, 661, 1046], "y": [1237, 1237, 1237]})
ntext = alt.Chart(nlab).mark_text(font="Liberation Sans", fontSize=30, align="center",
                                  baseline="alphabetic", color="black").encode(
    x=alt.X("x:Q", scale=None, axis=None), y=alt.Y("y:Q", scale=None, axis=None), text="t:N")

# ---------------- one flat grid: frame cell, panels and empty gap cells ----------------
COLW = [152, 140, 21, 140, 74, 140, 21, 140, 79, 140, 25, 140]
ROWH = [65, 140, 40, 140, 57, 140, 41, 140, 59, 140, 39, 140]

frame_cell = alt.layer(rules, dtext, main_txt, sub_txt, ntext).properties(
    width=COLW[0], height=ROWH[0], view=alt.ViewBackground(stroke="transparent"))

SPACER_DF = pd.DataFrame({"t": [""]})


def gap_cell(w, h):
    # an empty, tiny text anchored at its top-left corner so it adds nothing to the bounds
    return alt.Chart(SPACER_DF).mark_text(align="left", baseline="top", fontSize=1).encode(
        x=alt.value(0), y=alt.value(0), text="t:N").properties(
        width=w, height=h, view=alt.ViewBackground(stroke="transparent"))


cells = []
for r in range(len(ROWH)):
    for c in range(len(COLW)):
        if r == 0 and c == 0:
            cells.append(frame_cell)
        elif r % 2 == 1 and c % 2 == 1:
            cells.append(make_panel((r - 1) // 2, (c - 1) // 2))
        else:
            cells.append(gap_cell(COLW[c] if c % 2 == 0 else 1, ROWH[r] if r % 2 == 0 else 1))

chart = alt.concat(*cells, columns=len(COLW), spacing=0, bounds="flush").properties(
    padding=0, background="white").configure_view(stroke="#404040", strokeWidth=1)

# final conversion without the (very slow for this size) schema validation
_orig_to_dict = chart.to_dict


def _fast_to_dict(*args, **kwargs):
    kwargs["validate"] = False
    return _orig_to_dict(*args, **kwargs)


object.__setattr__(chart, "to_dict", _fast_to_dict)

chart.save("out.html", embed_options={"renderer": "svg", "actions": False})
